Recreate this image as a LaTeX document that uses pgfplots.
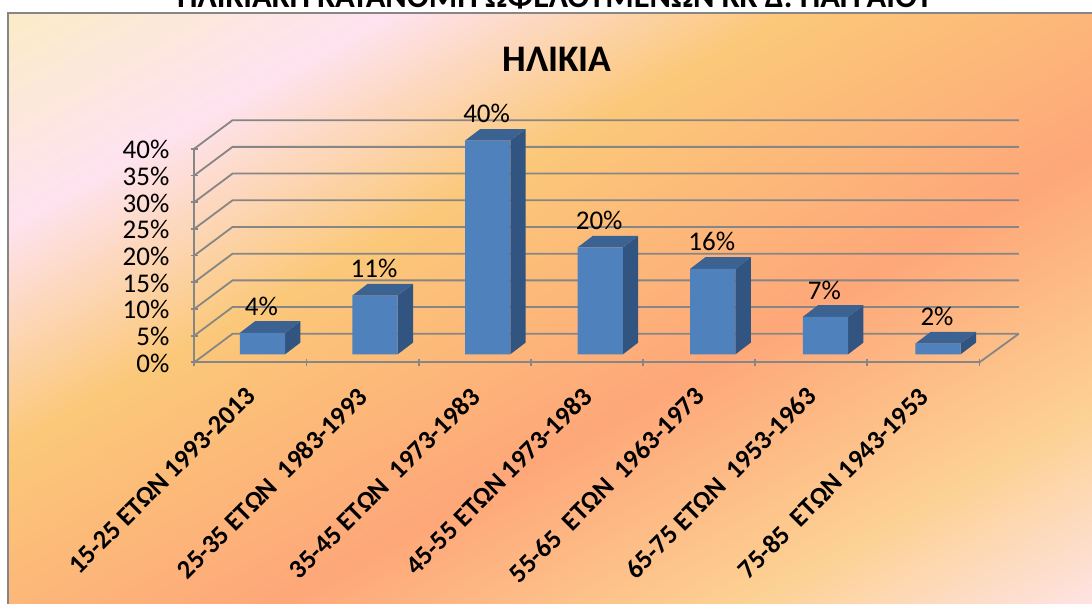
\documentclass[border=0pt]{standalone}
\usepackage{pgfplots}
\pgfplotsset{compat=1.18}
\usepackage{fontspec}
\setmainfont{Carlito}
\definecolor{gridc}{HTML}{868686}
\definecolor{barf}{HTML}{4F81BD}
\definecolor{bars}{HTML}{325480}
\definecolor{bart}{HTML}{3B6290}
\pgfdeclarehorizontalshading{sunset}{3000pt}{
 rgb(0pt)=(0.985,0.925,0.78);
 rgb(15pt)=(0.985,0.925,0.78);
 rgb(200pt)=(0.995,0.89,0.94);
 rgb(395pt)=(0.985,0.785,0.475);
 rgb(663pt)=(0.995,0.655,0.475);
 rgb(890pt)=(0.99,0.82,0.58);
 rgb(1057pt)=(0.995,0.89,0.89);
 rgb(1200pt)=(0.995,0.89,0.89)}
\pgfplotstableread{
x v
0 4
1 11
2 40
3 20
4 16
5 7
6 2
}\agedata
\begin{document}
\begin{tikzpicture}[x=1pt,y=1pt]
\useasboundingbox (0,0) rectangle (1092,603);
\fill[white] (0,0) rectangle (1092,603);
\begin{scope}
\clip (8,-5) rectangle (1100,590);
\node[rotate=-61,anchor=west,inner sep=0pt,outer sep=0pt] at (0,603) {\pgfuseshading{sunset}};
\end{scope}
\draw[gridc,line width=1.8pt] (8,-5) -- (8,590) -- (1100,590);
\node[font=\fontsize{32.5}{38}\selectfont\bfseries,anchor=base] at (555,595.5) {ΗΛΙΚΙΑΚΗ ΚΑΤΑΝΟΜΗ ΩΦΕΛΟΥΜΕΝΩΝ ΚΚ Δ. ΠΑΓΓΑΙΟΥ};
\node[font=\fontsize{37.5}{43}\selectfont\bfseries] at (557,544) {ΗΛΙΚΙΑ};
% front plane, floor, walls
\begin{axis}[
 at={(194.3pt,240.7pt)},anchor=south west,
 scale only axis,width=785.2pt,height=213.6pt,
 xmin=0,xmax=7,ymin=0,ymax=40,clip=false,
 axis lines=left,axis line style={gridc,line width=1.8pt,-},
 tick style={gridc,line width=1.8pt},
 major tick length=7.5pt,
 xtick={0,...,7},ytick={0,5,...,40},
 x tick label as interval,
 xticklabels={15-25 ΕΤΩΝ 1993-2013,25-35 ΕΤΩΝ\ \ 1983-1993,35-45 ΕΤΩΝ\ \ 1973-1983,45-55 ΕΤΩΝ 1973-1983,55-65\ \ ΕΤΩΝ\ \ 1963-1973,65-75 ΕΤΩΝ\ \ 1953-1963,75-85\ \ ΕΤΩΝ 1943-1953},
 x tick label style={rotate=45,anchor=north east,font=\fontsize{26.5}{32}\selectfont\bfseries,inner sep=0pt,xshift=-18pt,yshift=-9.3pt},
 y tick label style={font=\fontsize{27}{32}\selectfont,inner sep=0pt,xshift=-21pt,yshift=-1pt},
 /pgf/number format/assume math mode=true,
 yticklabel={\pgfmathprintnumber{\tick}\%},
]
\addplot[gridc,line width=1.8pt] coordinates {(0,0)(0.341,5.34)(7.35,5.34)};
\addplot[gridc,line width=1.8pt] coordinates {(0,5)(0.341,10.34)(7.35,10.34)};
\addplot[gridc,line width=1.8pt] coordinates {(0,10)(0.341,15.34)(7.35,15.34)};
\addplot[gridc,line width=1.8pt] coordinates {(0,15)(0.341,20.34)(7.35,20.34)};
\addplot[gridc,line width=1.8pt] coordinates {(0,20)(0.341,25.34)(7.35,25.34)};
\addplot[gridc,line width=1.8pt] coordinates {(0,25)(0.341,30.34)(7.35,30.34)};
\addplot[gridc,line width=1.8pt] coordinates {(0,30)(0.341,35.34)(7.35,35.34)};
\addplot[gridc,line width=1.8pt] coordinates {(0,35)(0.341,40.34)(7.35,40.34)};
\addplot[gridc,line width=1.8pt] coordinates {(0,40)(0.341,45.34)(7.35,45.34)};
\addplot[gridc,line width=1.8pt] coordinates {(7,0)(7.35,5.34)};
\end{axis}
% bars, standing a little behind the front plane
\begin{axis}[
 at={(206.1pt,248.7pt)},anchor=south west,
 scale only axis,width=788.2pt,height=213.6pt,
 xmin=-0.5,xmax=6.5,ymin=0,ymax=40,clip=false,
 hide axis,
 /pgf/number format/assume math mode=true,
]
% side and top faces: half width 0.2015, depth 0.136 and 2.19
\addplot[draw=none,fill=bars] coordinates {(0.2015,0)(0.3375,2.19)(0.3375,6.19)(0.2015,4)} --cycle;
\addplot[draw=none,fill=bart] coordinates {(-0.2015,4)(-0.0655,6.19)(0.3375,6.19)(0.2015,4)} --cycle;
\addplot[draw=none,fill=bars] coordinates {(1.2015,0)(1.3375,2.19)(1.3375,13.19)(1.2015,11)} --cycle;
\addplot[draw=none,fill=bart] coordinates {(0.7985,11)(0.9345,13.19)(1.3375,13.19)(1.2015,11)} --cycle;
\addplot[draw=none,fill=bars] coordinates {(2.2015,0)(2.3375,2.19)(2.3375,42.19)(2.2015,40)} --cycle;
\addplot[draw=none,fill=bart] coordinates {(1.7985,40)(1.9345,42.19)(2.3375,42.19)(2.2015,40)} --cycle;
\addplot[draw=none,fill=bars] coordinates {(3.2015,0)(3.3375,2.19)(3.3375,22.19)(3.2015,20)} --cycle;
\addplot[draw=none,fill=bart] coordinates {(2.7985,20)(2.9345,22.19)(3.3375,22.19)(3.2015,20)} --cycle;
\addplot[draw=none,fill=bars] coordinates {(4.2015,0)(4.3375,2.19)(4.3375,18.19)(4.2015,16)} --cycle;
\addplot[draw=none,fill=bart] coordinates {(3.7985,16)(3.9345,18.19)(4.3375,18.19)(4.2015,16)} --cycle;
\addplot[draw=none,fill=bars] coordinates {(5.2015,0)(5.3375,2.19)(5.3375,9.19)(5.2015,7)} --cycle;
\addplot[draw=none,fill=bart] coordinates {(4.7985,7)(4.9345,9.19)(5.3375,9.19)(5.2015,7)} --cycle;
\addplot[draw=none,fill=bars] coordinates {(6.2015,0)(6.3375,2.19)(6.3375,4.19)(6.2015,2)} --cycle;
\addplot[draw=none,fill=bart] coordinates {(5.7985,2)(5.9345,4.19)(6.3375,4.19)(6.2015,2)} --cycle;
\addplot[ybar,bar width=45.2pt,draw=none,fill=barf,
 nodes near coords={\pgfmathprintnumber{\pgfplotspointmeta}\%},
 every node near coord/.append style={font=\fontsize{27}{32}\selectfont,text=black,anchor=center,yshift=27pt,xshift=-1pt,inner sep=0pt},
 point meta=y] table[x=x,y=v] {\agedata};
\end{axis}
\end{tikzpicture}
\end{document}
